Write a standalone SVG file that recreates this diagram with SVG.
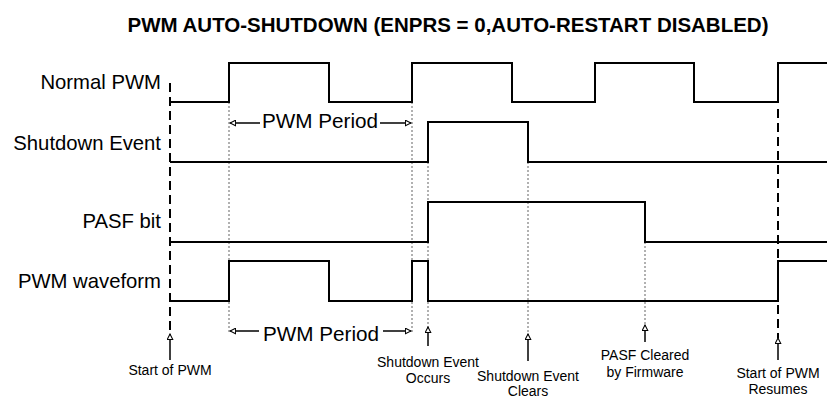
<svg xmlns="http://www.w3.org/2000/svg" width="827" height="399" viewBox="0 0 827 399">
<defs>
<marker id="oa" viewBox="0 0 10 10" refX="9" refY="5" markerWidth="7" markerHeight="7" orient="auto-start-reverse" markerUnits="userSpaceOnUse">
<path d="M1,1 L9,5 L1,9 Z" fill="#fff" stroke="#000" stroke-width="1.5"/>
</marker>
</defs>
<style>
.sig{fill:none;stroke:#000;stroke-width:2}
.lbl{font-family:"Liberation Sans",Arial,sans-serif;font-size:20.3px;fill:#000;text-anchor:end}
.sm{font-family:"Liberation Sans",Arial,sans-serif;font-size:14px;fill:#000;text-anchor:middle}
.per{font-family:"Liberation Sans",Arial,sans-serif;font-size:20.7px;fill:#000}
.ttl{font-family:"Liberation Sans",Arial,sans-serif;font-size:20.5px;font-weight:bold;fill:#000;text-anchor:middle}
.dash{fill:none;stroke:#000;stroke-width:2;stroke-dasharray:9,5}
.dot{fill:none;stroke:#888;stroke-width:1.3;stroke-dasharray:2,2}
.arr{fill:none;stroke:#000;stroke-width:1.5}
</style>
<rect width="827" height="399" fill="#fff"/>
<text class="ttl" x="448" y="32">PWM AUTO-SHUTDOWN (ENPRS = 0,AUTO-RESTART DISABLED)</text>

<g id="labels">
<text class="lbl" x="161" y="89">Normal PWM</text>
<text class="lbl" x="161" y="150">Shutdown Event</text>
<text class="lbl" x="161" y="228">PASF bit</text>
<text class="lbl" x="161" y="288">PWM waveform</text>
</g>

<g id="guides">
<line class="dot" x1="229" y1="102" x2="229" y2="332"/>
<line class="dot" x1="412" y1="102" x2="412" y2="332"/>
<line class="dot" x1="428" y1="122" x2="428" y2="328"/>
<line class="dot" x1="528" y1="162" x2="528" y2="334"/>
<line class="dot" x1="645" y1="242" x2="645" y2="326"/>
<line class="dash" x1="170" y1="83" x2="170" y2="334"/>
<line class="dash" x1="778" y1="109" x2="778" y2="338"/>
</g>

<g id="normal-pwm">
<polyline class="sig" points="170,102 229,102 229,63 329,63 329,102 412,102 412,63 512,63 512,102 595,102 595,63 694,63 694,102 778,102 778,63 827,63"/>
</g>
<g id="shutdown-event">
<polyline class="sig" points="170,162 428,162 428,122 528,122 528,162 827,162"/>
</g>
<g id="pasf-bit">
<polyline class="sig" points="170,242 428,242 428,202 645,202 645,242 827,242"/>
</g>
<g id="pwm-waveform">
<polyline class="sig" points="170,301 229,301 229,261 329,261 329,301 412,301 412,261 428,261 428,301 778,301 778,261 827,261"/>
</g>

<g id="connectors">
<line class="arr" x1="260" y1="123" x2="230" y2="123" marker-end="url(#oa)"/>
<line class="arr" x1="380" y1="123" x2="411" y2="123" marker-end="url(#oa)"/>
<line class="arr" x1="259" y1="331" x2="230" y2="331" marker-end="url(#oa)"/>
<line class="arr" x1="383" y1="331" x2="411" y2="331" marker-end="url(#oa)"/>
<line class="arr" x1="170" y1="360" x2="170" y2="334" marker-end="url(#oa)"/>
<line class="arr" x1="428" y1="346" x2="428" y2="327" marker-end="url(#oa)"/>
<line class="arr" x1="528" y1="361" x2="528" y2="334" marker-end="url(#oa)"/>
<line class="arr" x1="645" y1="342" x2="645" y2="325" marker-end="url(#oa)"/>
<line class="arr" x1="778" y1="360" x2="778" y2="338" marker-end="url(#oa)"/>
</g>

<g id="period-labels">
<text class="per" x="262" y="128">PWM Period</text>
<text class="per" x="263" y="341">PWM Period</text>
</g>

<g id="event-labels">
<text class="sm" x="170" y="375">Start of PWM</text>
<text class="sm" x="428" y="367">Shutdown Event</text>
<text class="sm" x="428" y="383">Occurs</text>
<text class="sm" x="528" y="381">Shutdown Event</text>
<text class="sm" x="528" y="396">Clears</text>
<text class="sm" x="645" y="360">PASF Cleared</text>
<text class="sm" x="645" y="377">by Firmware</text>
<text class="sm" x="778" y="378">Start of PWM</text>
<text class="sm" x="778" y="394">Resumes</text>
</g>
</svg>
